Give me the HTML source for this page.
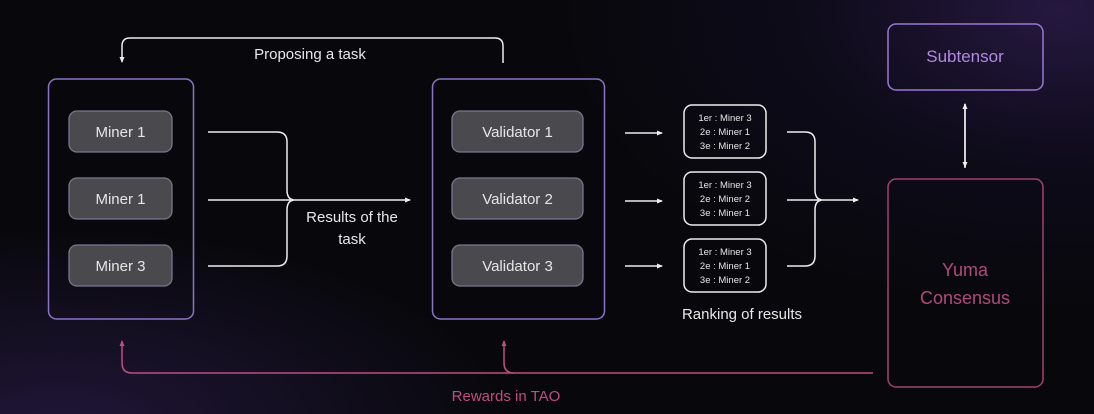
<!DOCTYPE html>
<html><head><meta charset="utf-8"><style>
html,body{margin:0;padding:0;}
body{width:1094px;height:414px;overflow:hidden;position:relative;font-family:"Liberation Sans",sans-serif;
background:radial-gradient(ellipse 500px 300px at 1060px 10px,#261840 0%,rgba(20,14,40,0.5) 50%,rgba(0,0,0,0) 100%),radial-gradient(ellipse 450px 200px at 60px 430px,#201638 0%,rgba(0,0,0,0) 100%),#08080c;}
svg{position:absolute;left:0;top:0}
</style></head><body>
<svg width="1094" height="414" viewBox="0 0 1094 414" font-family="Liberation Sans, sans-serif">
<defs>
<marker id="a" markerWidth="6" markerHeight="6" refX="5" refY="3" orient="auto" markerUnits="userSpaceOnUse"><path d="M0,0.5 L6,3 L0,5.5z" fill="#eee"/></marker>
<marker id="p" markerWidth="6" markerHeight="6" refX="5" refY="3" orient="auto" markerUnits="userSpaceOnUse"><path d="M0,0.5 L6,3 L0,5.5z" fill="#c04c80"/></marker>
</defs>
<g fill="none" stroke-width="1.5">
<rect x="48.5" y="79" width="145" height="240" rx="8" stroke="#8a74c8"/>
<rect x="432.5" y="79" width="172" height="240" rx="8" stroke="#8a74c8"/>
<rect x="888" y="24" width="155" height="66" rx="8" stroke="#9a78d0"/>
<rect x="888" y="179" width="155" height="208" rx="8" stroke="#a0426e"/>
</g>
<g fill="#4a4a4e" stroke="#7c7490" stroke-width="1.3">
<rect x="69" y="111" width="103" height="41" rx="8"/>
<rect x="69" y="178" width="103" height="41" rx="8"/>
<rect x="69" y="245" width="103" height="41" rx="8"/>
<rect x="452" y="111" width="131" height="41" rx="8"/>
<rect x="452" y="178" width="131" height="41" rx="8"/>
<rect x="452" y="245" width="131" height="41" rx="8"/>
</g>
<g fill="#e6e6e6" font-size="15" text-anchor="middle">
<text x="120.5" y="137">Miner 1</text><text x="120.5" y="204">Miner 1</text><text x="120.5" y="271">Miner 3</text>
<text x="517.5" y="137">Validator 1</text><text x="517.5" y="204">Validator 2</text><text x="517.5" y="271">Validator 3</text>
</g>
<g fill="none" stroke="#eee" stroke-width="1.5">
<path d="M503,63 V46 Q503,38 495,38 H130 Q122,38 122,46 V62" marker-end="url(#a)"/>
<path d="M208,132 H277 Q287,132 287,142 V190 Q287,200 295,200 M208,266 H277 Q287,266 287,256 V210 Q287,200 295,200 M208,200 H410" marker-end="url(#a)"/>
<path d="M625,133 H662" marker-end="url(#a)"/><path d="M625,201 H662" marker-end="url(#a)"/><path d="M625,266 H662" marker-end="url(#a)"/>
<path d="M787,132 H805 Q815,132 815,142 V190 Q815,200 823,200 M787,266 H805 Q815,266 815,256 V210 Q815,200 823,200 M787,200 H858" marker-end="url(#a)"/>
<path d="M965,168 V104" marker-end="url(#a)"/><path d="M965,104 V167" marker-end="url(#a)"/>
<rect x="684" y="105" width="82" height="53" rx="8"/>
<rect x="684" y="172" width="82" height="53" rx="8"/>
<rect x="684" y="239" width="82" height="53" rx="8"/>
</g>
<g fill="none" stroke="#c04c80" stroke-width="1.5">
<path d="M873,373 H132 Q122,373 122,363 V341" marker-end="url(#p)"/>
<path d="M514,373 Q504,373 504,363 V341" marker-end="url(#p)"/>
</g>
<g fill="#e6e6e6" font-size="9.5" text-anchor="middle">
<text x="725" y="121">1er : Miner 3</text><text x="725" y="135">2e : Miner 1</text><text x="725" y="149">3e : Miner 2</text>
<text x="725" y="188">1er : Miner 3</text><text x="725" y="202">2e : Miner 2</text><text x="725" y="216">3e : Miner 1</text>
<text x="725" y="255">1er : Miner 3</text><text x="725" y="269">2e : Miner 1</text><text x="725" y="283">3e : Miner 2</text>
</g>
<g fill="#e8e8e8" font-size="15" text-anchor="middle">
<text x="310" y="59">Proposing a task</text>
<text x="352" y="222">Results of the</text><text x="352" y="244">task</text>
<text x="742" y="319">Ranking of results</text>
</g>
<text x="965" y="62" fill="#b08ae0" font-size="17" text-anchor="middle">Subtensor</text>
<text x="965" y="276" fill="#b04a7a" font-size="18" text-anchor="middle">Yuma</text>
<text x="965" y="304" fill="#b04a7a" font-size="18" text-anchor="middle">Consensus</text>
<text x="506" y="401" fill="#c04c80" font-size="15" text-anchor="middle">Rewards in TAO</text>
</svg>
</body></html>
